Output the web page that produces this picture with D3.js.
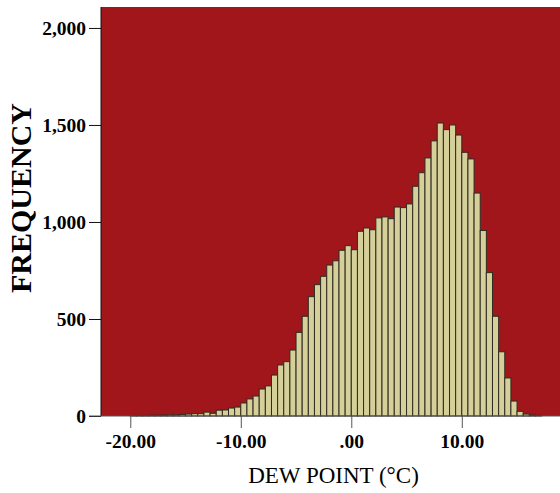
<!DOCTYPE html>
<html>
<head>
<meta charset="utf-8">
<script src="https://cdn.jsdelivr.net/npm/d3@7/dist/d3.min.js"></script>
<style>
  html, body { margin: 0; padding: 0; background: #fff; }
  svg { display: block; }
</style>
</head>
<body>
<svg id="chart" width="560" height="493"></svg>
<script>
// Dew point histogram: bins of 5/9 °C starting at -20 °C
const binStart = -20;
const binWidth = 5 / 9;
const counts = [
  2, 3, 3, 4, 4, 5, 6, 6, 8, 10,
  12, 12, 20, 14, 30, 31, 41, 46, 67, 88,
  103, 139, 155, 211, 263, 280, 340, 431, 514, 615,
  677, 720, 778, 800, 854, 878, 857, 952, 969, 960,
  1021, 1026, 1017, 1077, 1074, 1093, 1184, 1254, 1330, 1418,
  1510, 1476, 1500, 1448, 1359, 1325, 1149, 956, 739, 514,
  331, 196, 77, 24, 10, 5, 3
];
const xTicks = [-20, -10, 0, 10];
const xTickLabels = ["-20.00", "-10.00", ".00", "10.00"];
const yTicks = [0, 500, 1000, 1500, 2000];
const yTickLabels = ["0", "500", "1,000", "1,500", "2,000"];

const bins = counts.map((c, i) => ({
  x0: binStart + i * binWidth,
  x1: binStart + (i + 1) * binWidth,
  count: c
}));

const svg = d3.select("#chart");
const plot = { left: 101, right: 566, top: 7, bottom: 416 };
const serif = "'Liberation Serif', 'Times New Roman', serif";

const x = d3.scaleLinear().domain([-22.65, 19.43]).range([plot.left, plot.right]);
const y = d3.scaleLinear().domain([0, 2108]).range([plot.bottom, plot.top]);

// plot background
svg.append("rect")
  .attr("x", plot.left).attr("y", plot.top)
  .attr("width", plot.right - plot.left).attr("height", plot.bottom - plot.top)
  .attr("fill", "#a1161b");

// bars
svg.append("g").selectAll("rect").data(bins).join("rect")
  .attr("x", d => x(d.x0))
  .attr("y", d => y(d.count))
  .attr("width", d => x(d.x1) - x(d.x0))
  .attr("height", d => y(0) - y(d.count))
  .attr("fill", "#d5cf9a")
  .attr("stroke", "#2e2c22")
  .attr("stroke-width", 1);

// y axis
const yAxis = d3.axisLeft(y).tickValues(yTicks).tickSize(12).tickPadding(3)
  .tickFormat((d, i) => yTickLabels[i]);
const gy = svg.append("g").attr("transform", `translate(${plot.left},0)`).call(yAxis);
gy.select(".domain").attr("d", `M0,${plot.top}V${plot.bottom}`).attr("stroke", "#111");
gy.selectAll(".tick line").attr("stroke", "#111");
gy.selectAll(".tick text")
  .attr("font-family", serif)
  .attr("font-weight", "bold").attr("font-size", 19.5).attr("fill", "#000")
  .attr("dy", "0.34em");

// x axis
const xAxis = d3.axisBottom(x).tickValues(xTicks).tickSize(12).tickPadding(6)
  .tickFormat((d, i) => xTickLabels[i]);
const gx = svg.append("g").attr("transform", `translate(0,${plot.bottom})`).call(xAxis);
gx.select(".domain").attr("d", `M${plot.left - 12},0H${plot.right}`).attr("stroke", "#555");
gx.selectAll(".tick line").attr("stroke", "#555");
gx.selectAll(".tick text")
  .attr("font-family", serif)
  .attr("font-weight", "bold").attr("font-size", 19.5).attr("fill", "#000")
  .attr("dy", "0.71em");

// axis titles
svg.append("text")
  .attr("x", 333.5).attr("y", 482.5)
  .attr("text-anchor", "middle")
  .attr("font-family", serif)
  .attr("font-size", 23).attr("fill", "#000")
  .text("DEW POINT (°C)");

svg.append("text")
  .attr("transform", "translate(31,198) rotate(-90)")
  .attr("text-anchor", "middle")
  .attr("font-family", serif)
  .attr("font-weight", "bold").attr("font-size", 30).attr("fill", "#000")
  .text("FREQUENCY");
</script>
</body>
</html>
